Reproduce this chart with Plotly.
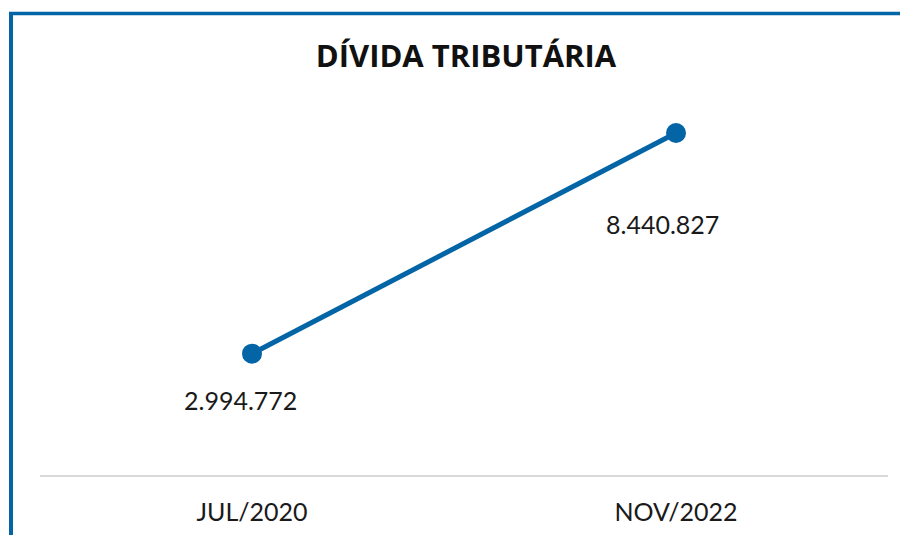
import plotly.graph_objects as go

categories = ["JUL/2020", "NOV/2022"]
values = [2994772, 8440827]
value_labels = ["2.994.772", "8.440.827"]
title_text = "DÍVIDA TRIBUTÁRIA"

BLUE = "#0365A6"
OFF = 8  # page body margin offset
W, H = 908, 535 - OFF
ml, mt = 40 - OFF, 60 - OFF
plot_right = 888 - OFF
plot_bottom = 475 - OFF
mr, mb = W - plot_right, H - plot_bottom
plot_h = H - mt - mb
ymax = max(values) * plot_h / 342.0

fig = go.Figure()
fig.add_trace(go.Scatter(
    x=categories, y=values, mode="lines+markers",
    line=dict(color=BLUE, width=5),
    marker=dict(color=BLUE, size=20),
    hoverinfo="skip", showlegend=False,
))

label_shifts = [(-12, -46), (-14, -91)]
for c, v, t, (dx, dy) in zip(categories, values, value_labels, label_shifts):
    fig.add_annotation(x=c, y=v, text=t, showarrow=False, xshift=dx, yshift=dy,
                       font=dict(family="Lato", size=25, color="#1a1a1a"))

plot_w = W - ml - mr
def px_x(p):
    return (p - OFF - ml) / plot_w
def px_y(p):
    return (H - mb - (p - OFF)) / plot_h

# frame border (top and left)
fig.add_shape(type="line", xref="paper", yref="paper",
              x0=px_x(9), x1=px_x(930), y0=px_y(13.5), y1=px_y(13.5),
              line=dict(color=BLUE, width=3.5))
fig.add_shape(type="line", xref="paper", yref="paper",
              x0=px_x(11), x1=px_x(11), y0=px_y(12), y1=px_y(560),
              line=dict(color=BLUE, width=4))

fig.update_layout(
    width=W, height=H,
    margin=dict(l=ml, r=mr, t=mt, b=mb, autoexpand=False),
    paper_bgcolor="white", plot_bgcolor="white",
    title=dict(text="<b>" + title_text + "</b>", x=(466 - OFF) / W, xanchor="center",
               y=1 - (56 - OFF) / H, yanchor="middle",
               font=dict(family="Open Sans", size=31, color="#111111")),
    xaxis=dict(type="category", range=[-0.5, 1.5], showgrid=False, zeroline=False,
               showline=True, linecolor="#d9d9d9", linewidth=2, automargin=False,
               ticks="", ticklabelstandoff=14,
               tickfont=dict(family="Lato", size=25, color="#1a1a1a")),
    yaxis=dict(range=[0, ymax], visible=False, showgrid=False, zeroline=False,
               automargin=False),
)

fig.write_html("out.html")
